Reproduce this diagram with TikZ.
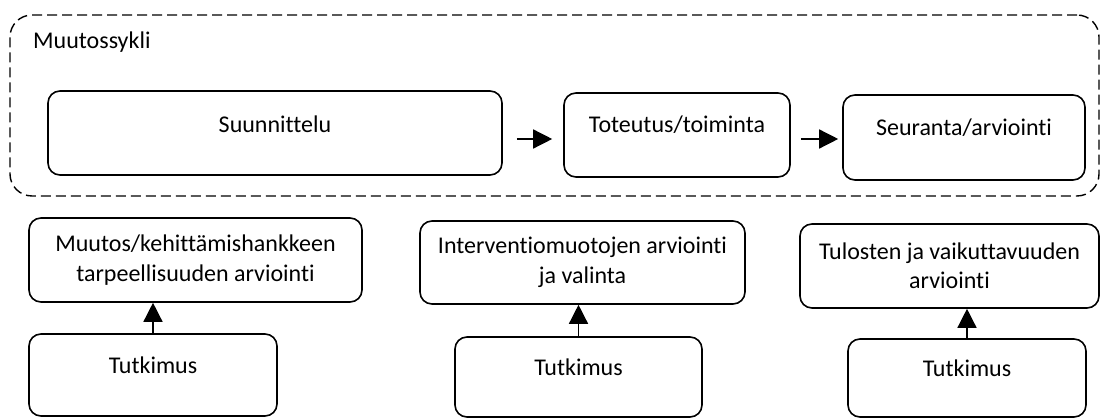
\documentclass[tikz,border=0pt]{standalone}
\usepackage{fontspec}
\setmainfont{Carlito}[Ligatures=NoCommon]
\usetikzlibrary{arrows.meta,calc}
\begin{document}
\begin{tikzpicture}[x=1pt,y=-1pt,
  box/.style={draw=black, line width=1.6pt, rounded corners=12pt, inner sep=0pt, align=center},
  arr/.style={-{Triangle[length=19pt,width=19pt]}, line width=1.4pt},
  font=\fontsize{24}{29.5}\selectfont]
\useasboundingbox (0,0) rectangle (1101,419);
% dashed cycle frame
\node[draw=black, dash pattern=on 10pt off 5pt, line width=1.4pt, rounded corners=22pt,
      minimum width=1089pt, minimum height=181pt, inner sep=0pt] (cycle) at (554.5,105.5) {};
\node[anchor=west, inner sep=0pt] (title) at (33,42) {Muutossykli};
% top row
\node[box, minimum width=454pt, minimum height=84pt, label={[yshift=9pt]center:Suunnittelu}] (suun) at (275,133) {};
\node[box, minimum width=226pt, minimum height=84pt, label={[yshift=10pt]center:Toteutus/toiminta}] (tot) at (677,135) {};
\node[box, minimum width=242pt, minimum height=85pt, label={[yshift=10pt]center:Seuranta/arviointi}] (seu) at (964,137.5) {};
\coordinate (ay) at (0,139);
\draw[arr, shorten <=14pt, shorten >=11pt] (suun.east |- ay) -- (tot.west |- ay);
\draw[arr, shorten <=10pt, shorten >=4pt] (tot.east |- ay) -- (seu.west |- ay);
% bottom row
\node[box, minimum width=333pt, minimum height=84pt] (u1) at (195.5,260) {Muutos/kehittämishankkeen\\tarpeellisuuden arviointi};
\node[box, minimum width=325pt, minimum height=83pt] (u2) at (582.5,262.5) {Interventiomuotojen arviointi\\ja valinta};
\node[box, minimum width=299pt, minimum height=84pt] (u3) at (949.5,266) {Tulosten ja vaikuttavuuden\\arviointi};
\node[box, minimum width=248pt, minimum height=82pt, label={[yshift=10pt]center:Tutkimus}] (t1) at (153,375) {};
\node[box, minimum width=247pt, minimum height=80pt, label={[yshift=10pt]center:Tutkimus}] (t2) at (578.5,377) {};
\node[box, minimum width=238pt, minimum height=78pt, label={[yshift=10pt]center:Tutkimus}] (t3) at (967,378) {};
\draw[arr] (t1.north) -- (t1.north |- u1.south);
\draw[arr] (t2.north) -- (t2.north |- u2.south);
\draw[arr] (t3.north) -- (t3.north |- u3.south);
\end{tikzpicture}
\end{document}
